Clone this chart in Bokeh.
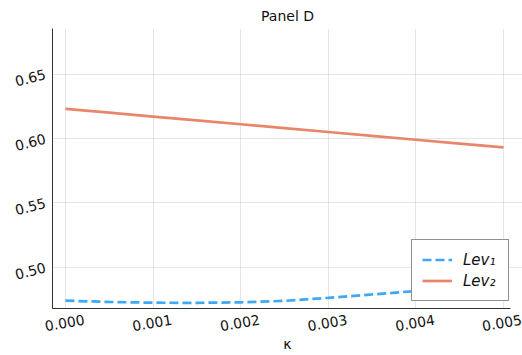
from bokeh.plotting import figure
from bokeh.embed import file_html
from bokeh.resources import INLINE
from bokeh.models import Range1d, FixedTicker, Legend, LegendItem, LinearAxis

kappa = [0.0, 0.0005, 0.001, 0.0015, 0.002, 0.0025, 0.003, 0.0035, 0.004, 0.0045, 0.005]
lev1 = [0.4740, 0.4730, 0.4724, 0.4723, 0.4727, 0.4738, 0.4762, 0.4788, 0.4815, 0.4840, 0.4865]
lev2 = [0.6230, 0.6200, 0.6170, 0.6140, 0.6110, 0.6080, 0.6050, 0.6020, 0.5990, 0.5960, 0.5930]
xticks = [0.0, 0.001, 0.002, 0.003, 0.004, 0.005]
yticks = [0.50, 0.55, 0.60, 0.65]
XMIN, XMAX = -0.000148, 0.005217
XEND = 0.00508          # where the axis line and grid stop
YMIN, YMAX = 0.4679, 0.6854
FONT = "DejaVu Sans"
ANG = 0.17
LABEL_SHIFT = 0.000216

p = figure(width=522, height=355, output_backend="svg", toolbar_location=None,
           x_range=Range1d(XMIN, XMAX), y_range=Range1d(YMIN, YMAX),
           x_axis_location=None,
           min_border_left=52, min_border_right=0, min_border_top=27, min_border_bottom=45)
p.extra_x_ranges = {"xl": Range1d(XMIN - LABEL_SHIFT, XMAX - LABEL_SHIFT)}
xax = LinearAxis(x_range_name="xl", bounds=(XMIN - LABEL_SHIFT, XEND - LABEL_SHIFT))
p.add_layout(xax, "below")

p.title.text = "Panel D"
p.title.align = "center"
p.title.offset = -3
p.title.text_font = FONT
p.title.text_font_size = "14px"
p.title.text_font_style = "normal"
p.title.text_color = "#111111"
p.outline_line_color = None

for ax in (xax, p.yaxis[0]):
    ax.axis_line_color = "#333333"
    ax.axis_line_width = 1
    ax.major_tick_out = 0
    ax.major_tick_in = 0
    ax.minor_tick_out = 0
    ax.minor_tick_in = 0
    ax.major_label_text_font = FONT
    ax.major_label_text_font_size = "14px"
    ax.major_label_text_color = "#111111"
xax.major_label_orientation = ANG
p.yaxis[0].major_label_orientation = 0.25
xax.ticker = FixedTicker(ticks=xticks)
p.yaxis.ticker = FixedTicker(ticks=yticks)
xax.major_label_overrides = {t: f"{t:.3f}" for t in xticks}
p.yaxis.major_label_overrides = {t: f"{t:.2f}" for t in yticks}
xax.major_label_standoff = 11
p.yaxis.major_label_standoff = 7
xax.axis_label = "κ"
xax.axis_label_text_font = FONT
xax.axis_label_text_font_size = "14px"
xax.axis_label_text_font_style = "normal"
xax.axis_label_text_color = "#111111"
xax.axis_label_text_line_height = 1.0
xax.axis_label_standoff = -3

p.xgrid.ticker = FixedTicker(ticks=xticks)
p.ygrid.ticker = FixedTicker(ticks=yticks)
p.ygrid.bounds = (XMIN, XEND)
p.grid.grid_line_color = "#000000"
p.grid.grid_line_alpha = 0.1

r1 = p.line(kappa, lev1, line_color="#3DA9F6", line_width=2.7, line_dash="9 4")
r2 = p.line(kappa, lev2, line_color="#E8866A", line_width=2.7)

legend = Legend(items=[LegendItem(label="Lev₁", renderers=[r1]),
                       LegendItem(label="Lev₂", renderers=[r2])],
                location=(359, 7))
legend.label_text_font = FONT
legend.label_text_font_style = "italic"
legend.label_text_font_size = "15px"
legend.label_text_color = "#111111"
legend.border_line_color = "#222222"
legend.border_line_width = 1
legend.background_fill_alpha = 1.0
legend.margin = 0
legend.padding = 10
legend.spacing = 2
legend.label_standoff = 11
legend.label_height = 19
legend.label_width = 35
legend.glyph_height = 19
legend.glyph_width = 30
p.add_layout(legend)

open("out.html", "w").write(file_html(p, INLINE))
